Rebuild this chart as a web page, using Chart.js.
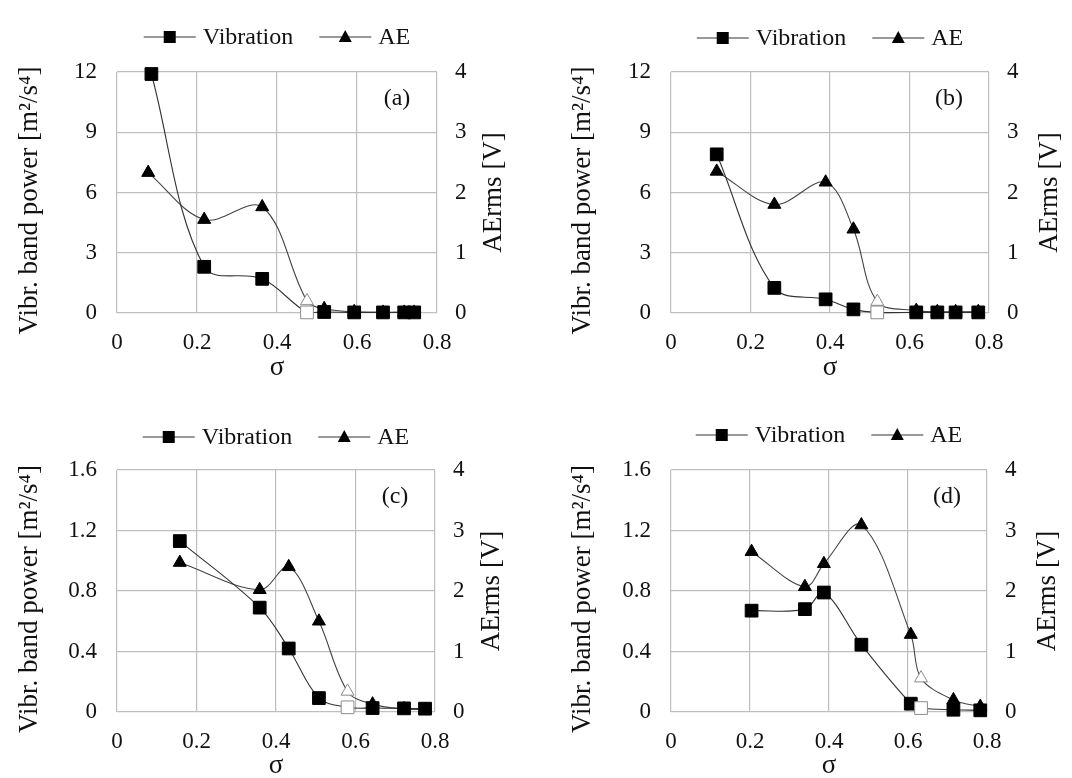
<!DOCTYPE html>
<html>
<head>
<meta charset="utf-8">
<script src="https://cdn.jsdelivr.net/npm/chart.js@4.4.1/dist/chart.umd.min.js"></script>
<style>
  html, body { margin: 0; padding: 0; background: #fff; }
  #wrap { position: relative; width: 1072px; height: 778px; overflow: hidden; }
  canvas { position: absolute; }
</style>
</head>
<body>
<div id="wrap">
  <canvas id="chartA" width="536" height="389" style="left:0px;top:0px"></canvas>
  <canvas id="chartB" width="536" height="389" style="left:536px;top:0px"></canvas>
  <canvas id="chartC" width="536" height="389" style="left:0px;top:389px"></canvas>
  <canvas id="chartD" width="536" height="389" style="left:536px;top:389px"></canvas>
</div>
<script>
// (a)
const sigmaVibA = [0.086, 0.218, 0.363, 0.475, 0.518, 0.593, 0.665, 0.718, 0.743];
const vibA = [11.9, 2.3, 1.7, 0.03, 0.05, 0.03, 0.03, 0.03, 0.03];
const sigmaAeA = [0.078, 0.218, 0.363, 0.475, 0.518, 0.593, 0.665, 0.718, 0.743];
const aeA = [2.33, 1.55, 1.76, 0.2, 0.07, 0.02, 0.01, 0.01, 0.01];
const openA = [3];

// (b)
const sigmaB = [0.115, 0.260, 0.389, 0.459, 0.519, 0.617, 0.670, 0.716, 0.773];
const vibB = [7.9, 1.25, 0.68, 0.18, 0.03, 0.03, 0.03, 0.03, 0.03];
const aeB = [2.35, 1.80, 2.17, 1.39, 0.19, 0.04, 0.02, 0.02, 0.02];
const openB = [4];

// (c)
const sigmaC = [0.158, 0.359, 0.432, 0.508, 0.580, 0.643, 0.722, 0.775];
const vibC = [1.13, 0.69, 0.42, 0.092, 0.031, 0.026, 0.024, 0.022];
const aeC = [2.47, 2.02, 2.40, 1.50, 0.34, 0.13, 0.05, 0.04];
const openC = [4];

// (d)
const sigmaD = [0.204, 0.339, 0.387, 0.482, 0.607, 0.633, 0.715, 0.783];
const vibD = [0.67, 0.68, 0.79, 0.445, 0.055, 0.026, 0.015, 0.011];
const aeD = [2.65, 2.07, 2.45, 3.09, 1.28, 0.56, 0.2, 0.09];
const openD = [5];

const xTicks = [0, 0.2, 0.4, 0.6, 0.8];
const aeTicks = [0, 1, 2, 3, 4];

const FONT = "'Liberation Serif', 'Times New Roman', serif";
const TEXT = '#111';
const GRID = '#bfbfbf';
const CW = 536, CH = 389;

// legend with line through marker, panel letter, both y titles (read upward)
const panelDecor = {
    id: 'panelDecor',
    afterDraw(chart, args, opts) {
        const ctx = chart.ctx;
        const area = chart.chartArea;
        ctx.save();
        ctx.font = '24px ' + FONT;
        ctx.textBaseline = 'middle';
        const lineLen = 52, gap = 7, itemGap = 26;
        const items = chart.data.datasets.map(ds => ds.label);
        const widths = items.map(t => lineLen + gap + ctx.measureText(t).width);
        const total = widths.reduce((a, b) => a + b, 0) + itemGap * (items.length - 1);
        let x = (area.left + area.right) / 2 - total / 2;
        const y = opts.legendY;
        items.forEach((t, i) => {
            ctx.strokeStyle = '#333';
            ctx.lineWidth = 1;
            ctx.beginPath();
            ctx.moveTo(x, y);
            ctx.lineTo(x + lineLen, y);
            ctx.stroke();
            const cx = x + lineLen / 2;
            ctx.fillStyle = '#000';
            ctx.beginPath();
            if (i === 0) {
                ctx.rect(cx - 6, y - 6, 12, 12);
            } else {
                ctx.moveTo(cx, y - 7);
                ctx.lineTo(cx + 6.5, y + 5);
                ctx.lineTo(cx - 6.5, y + 5);
                ctx.closePath();
            }
            ctx.fill();
            ctx.fillStyle = TEXT;
            ctx.textAlign = 'left';
            ctx.fillText(t, x + lineLen + gap, y + 1);
            x += widths[i] + itemGap;
        });
        ctx.textAlign = 'center';
        ctx.fillText(opts.letter, area.right - 40, area.top + 27);

        const midY = (area.top + area.bottom) / 2;
        ctx.font = '27px ' + FONT;
        // left axis title
        ctx.save();
        ctx.translate(opts.leftTitleX, midY + 8);
        ctx.rotate(-Math.PI / 2);
        ctx.fillText('Vibr. band power [m²/s⁴]', 0, 0);
        ctx.restore();
        // right axis title
        ctx.translate(area.right + opts.rightTitleOff, midY);
        ctx.rotate(-Math.PI / 2);
        ctx.fillText('AErms [V]', 0, 0);
        ctx.restore();
    }
};

function pointColors(n, open, fill) {
    const bg = [], bd = [];
    for (let i = 0; i < n; i++) {
        const isOpen = open.includes(i);
        bg.push(isOpen ? '#ffffff' : fill);
        bd.push(isOpen ? '#8c8c8c' : fill);
    }
    return { bg, bd };
}

function makePanel(id, p) {
    const sq = pointColors(p.vib.length, p.open, '#000');
    const tr = pointColors(p.ae.length, p.open, '#000');
    new Chart(document.getElementById(id), {
        type: 'line',
        data: {
            datasets: [
                {
                    label: 'Vibration',
                    data: p.sigmaVib.map((s, i) => ({ x: s, y: p.vib[i] })),
                    yAxisID: 'y',
                    borderColor: '#333',
                    borderWidth: 1.1,
                    tension: 0.35,
                    pointStyle: 'rect',
                    pointRadius: 9,
                    pointBackgroundColor: sq.bg,
                    pointBorderColor: sq.bd,
                    pointBorderWidth: 1,
                    clip: false
                },
                {
                    label: 'AE',
                    data: p.sigmaAe.map((s, i) => ({ x: s, y: p.ae[i] })),
                    yAxisID: 'y1',
                    borderColor: '#444',
                    borderWidth: 1.1,
                    tension: 0.35,
                    pointStyle: 'triangle',
                    pointRadius: 7.5,
                    pointBackgroundColor: tr.bg,
                    pointBorderColor: tr.bd,
                    pointBorderWidth: 1,
                    clip: false
                }
            ]
        },
        options: {
            responsive: false,
            animation: false,
            layout: { padding: { top: p.top, left: 0, right: 0, bottom: 0 } },
            plugins: {
                legend: { display: false },
                tooltip: { enabled: false },
                panelDecor: {
                    legendY: p.legendY, letter: p.letter,
                    leftTitleX: p.leftTitleX, rightTitleOff: p.rightTitleOff
                }
            },
            scales: {
                x: {
                    type: 'linear',
                    min: 0,
                    max: 0.8,
                    afterBuildTicks: s => { s.ticks = xTicks.map(v => ({ value: v })); },
                    ticks: { padding: 16, color: TEXT, font: { family: FONT, size: 23 } },
                    grid: { color: GRID, lineWidth: 1.2, drawTicks: false },
                    border: { display: false },
                    title: {
                        display: true, text: 'σ', color: TEXT,
                        font: { family: FONT, size: 27 },
                        padding: { top: 0, bottom: p.sigmaPad }
                    },
                    afterFit: s => { s.height = CH - p.bottom; }
                },
                y: {
                    position: 'left',
                    min: 0,
                    max: p.vibTicks[p.vibTicks.length - 1],
                    afterBuildTicks: s => { s.ticks = p.vibTicks.map(v => ({ value: v })); },
                    ticks: { padding: 20, color: TEXT, font: { family: FONT, size: 23 } },
                    grid: { color: GRID, lineWidth: 1.2, drawTicks: false },
                    border: { display: false },
                    title: { display: false },
                    afterFit: s => { s.width = p.left; }
                },
                y1: {
                    position: 'right',
                    min: 0,
                    max: 4,
                    afterBuildTicks: s => { s.ticks = aeTicks.map(v => ({ value: v })); },
                    ticks: { padding: 18, color: TEXT, font: { family: FONT, size: 23 } },
                    grid: { display: false, drawTicks: false },
                    border: { display: false },
                    title: { display: false },
                    afterFit: s => { s.width = CW - p.right; }
                }
            }
        },
        plugins: [panelDecor]
    });
}

makePanel('chartA', {
    sigmaVib: sigmaVibA, vib: vibA, sigmaAe: sigmaAeA, ae: aeA, open: openA,
    vibTicks: [0, 3, 6, 9, 12], letter: '(a)',
    left: 117, right: 437, top: 72, bottom: 313, legendY: 37,
    leftTitleX: 30, rightTitleOff: 57, sigmaPad: 5
});
makePanel('chartB', {
    sigmaVib: sigmaB, vib: vibB, sigmaAe: sigmaB, ae: aeB, open: openB,
    vibTicks: [0, 3, 6, 9, 12], letter: '(b)',
    left: 135, right: 453, top: 72, bottom: 313, legendY: 38,
    leftTitleX: 47, rightTitleOff: 61, sigmaPad: 5
});
makePanel('chartC', {
    sigmaVib: sigmaC, vib: vibC, sigmaAe: sigmaC, ae: aeC, open: openC,
    vibTicks: [0, 0.4, 0.8, 1.2, 1.6], letter: '(c)',
    left: 117, right: 435, top: 81, bottom: 323, legendY: 48,
    leftTitleX: 30, rightTitleOff: 57, sigmaPad: -4
});
makePanel('chartD', {
    sigmaVib: sigmaD, vib: vibD, sigmaAe: sigmaD, ae: aeD, open: openD,
    vibTicks: [0, 0.4, 0.8, 1.2, 1.6], letter: '(d)',
    left: 135, right: 451, top: 81, bottom: 323, legendY: 46,
    leftTitleX: 47, rightTitleOff: 61, sigmaPad: -4
});
</script>
</body>
</html>
